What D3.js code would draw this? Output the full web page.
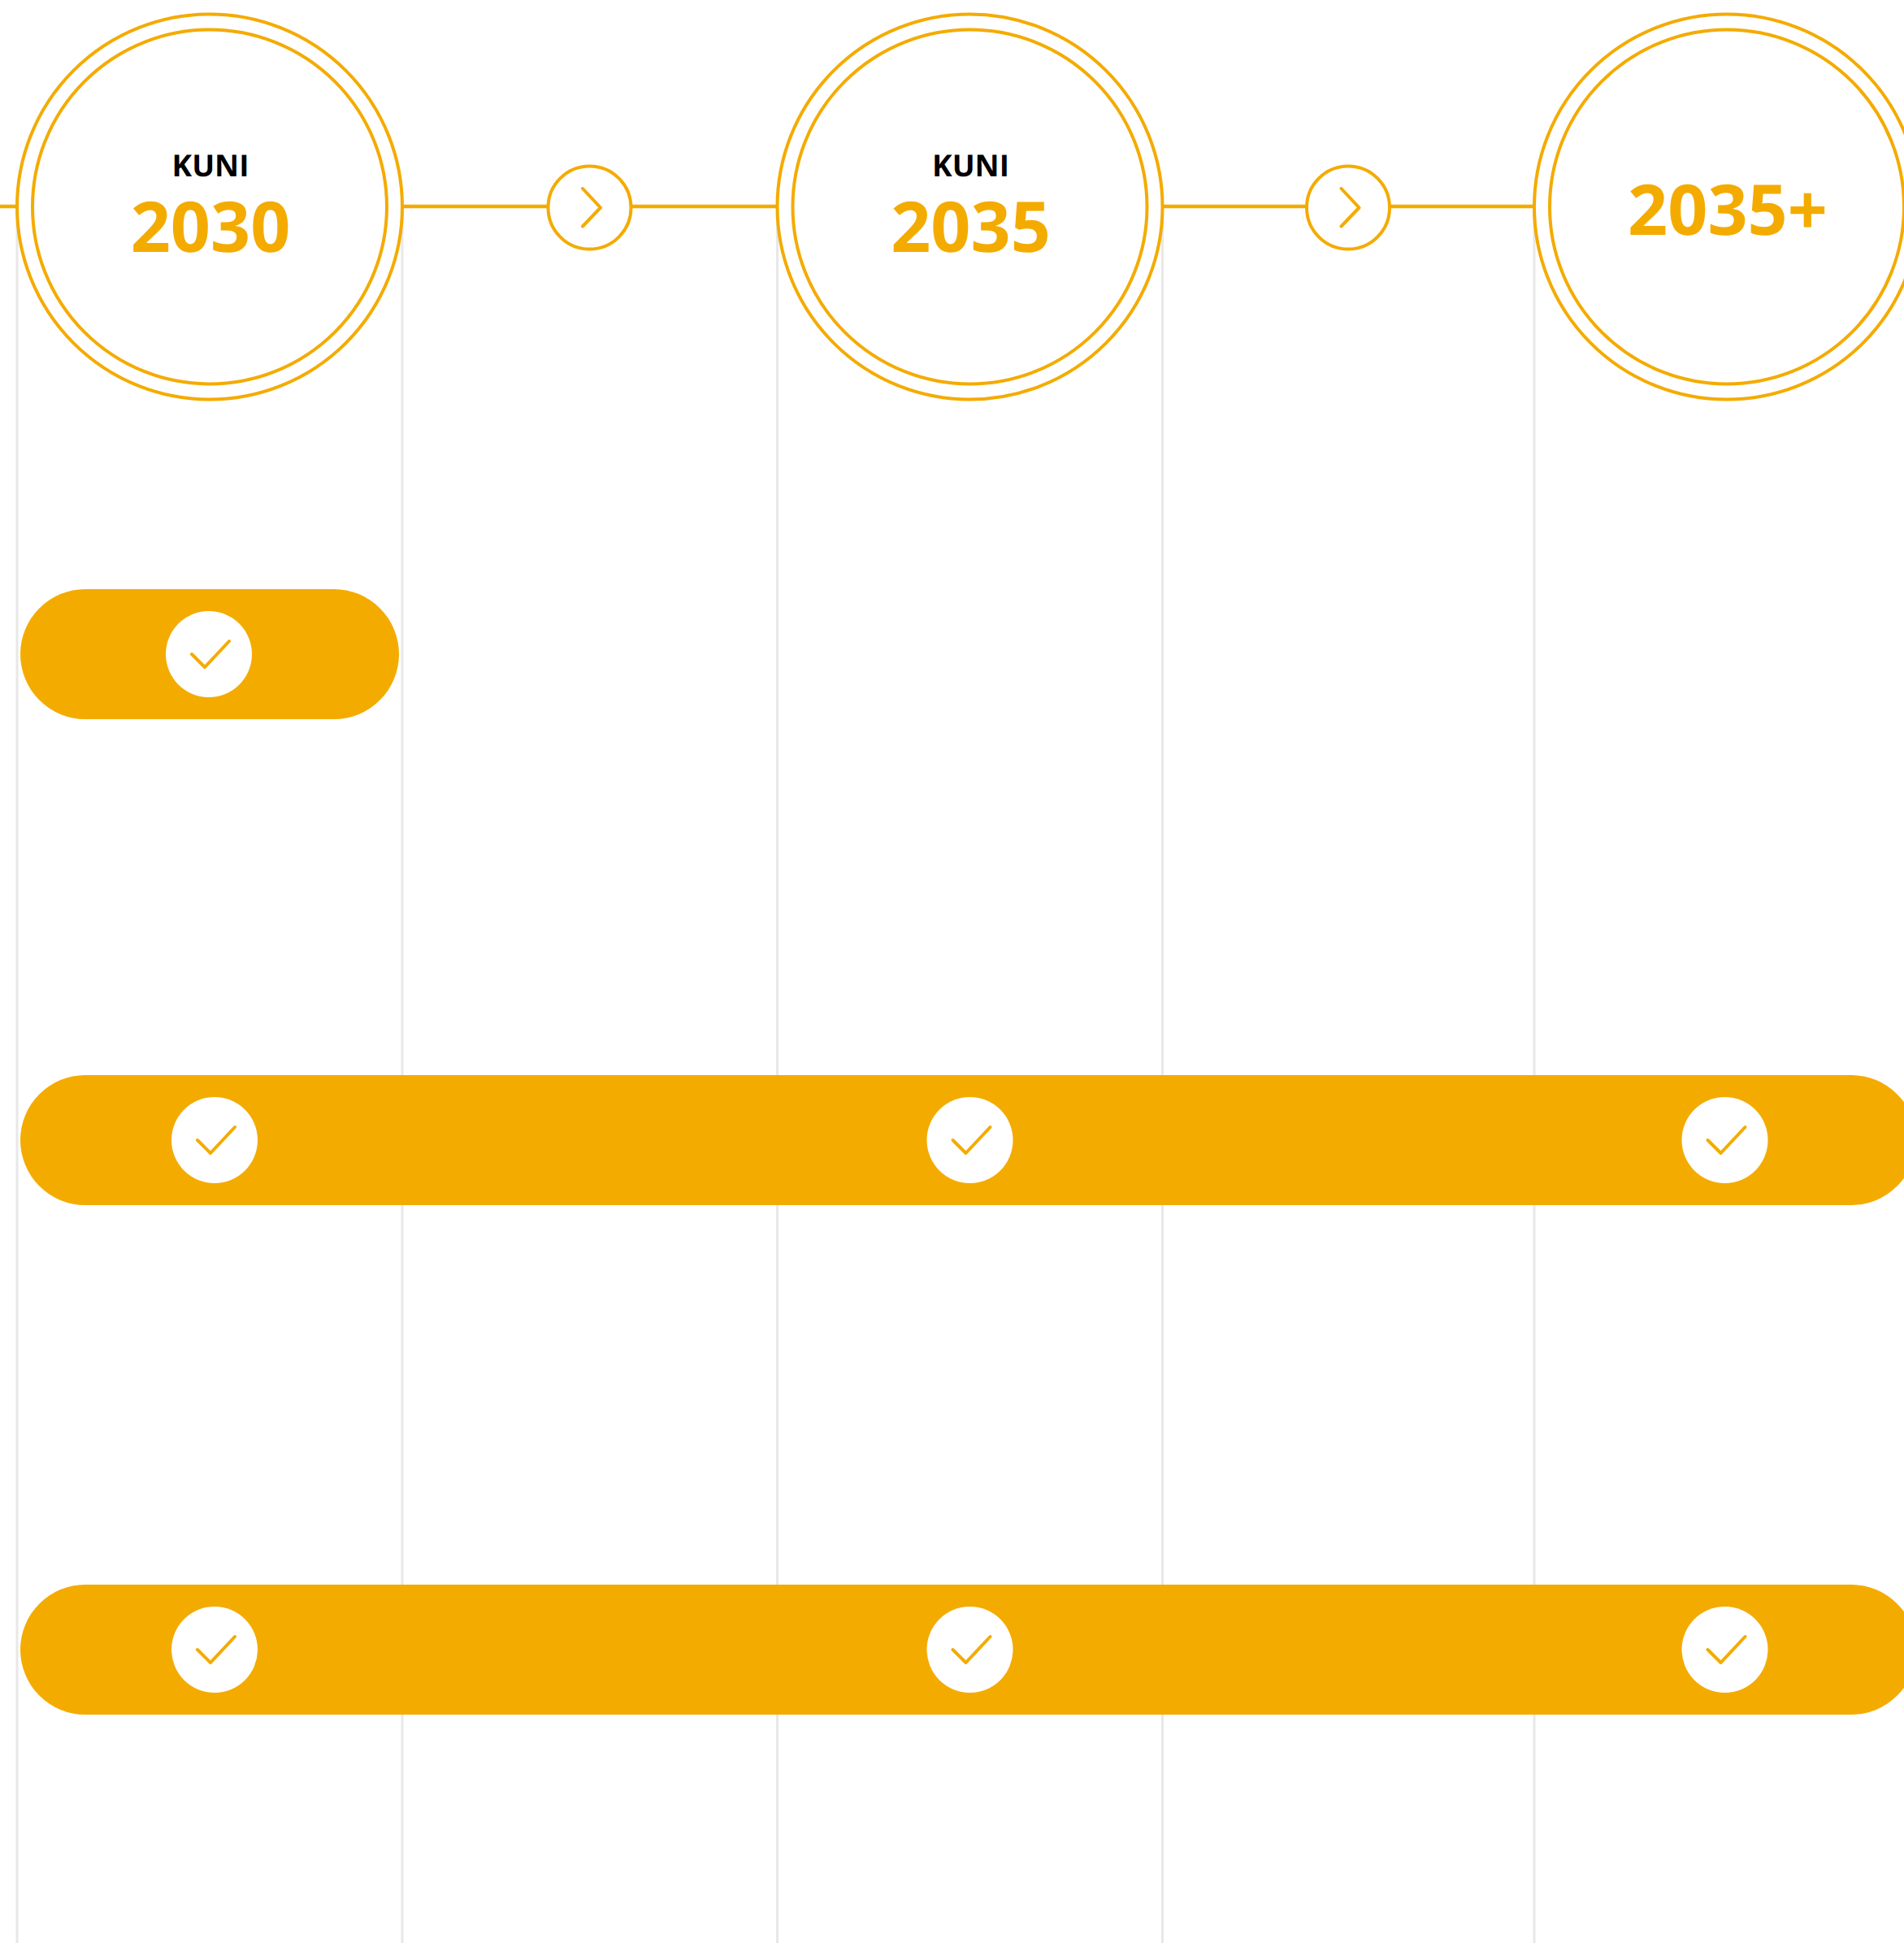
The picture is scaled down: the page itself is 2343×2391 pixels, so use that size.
<!DOCTYPE html>
<html lang="en">

<head>
    <meta charset="UTF-8">
    <title>Kuni 2030, 2035, 2035+</title>
    <style>
    html, body {
        margin: 0;
        padding: 0;
        background: #fff;
    }
    svg {
        display: block;
    }
    text {
        font-family: "Open Sans", sans-serif;
        font-weight: 700;
        text-anchor: middle;
        text-rendering: geometricPrecision;
    }
    </style>
</head>

<body>
    <div class="chart"></div>
    <script src="https://d3js.org/d3.v7.min.js"></script>
    <script type="text/javascript">
    // timeline
    var periods = ['2030', '2035', '2035+'];
    var periodPrefix = ['KUNI', 'KUNI', ''];
    var steps = ['2030-2035', '2035-2035+'];

    // rows: last period of each bar, and where the checks sit
    var rows = ['row1', 'row2', 'row3'];
    var rowEnd = ['2030', '2035+', '2035+'];
    var rowChecks = [
        ['2030'],
        ['2030', '2035', '2035+'],
        ['2030', '2035', '2035+']
    ];

    var width = 2343,
        height = 2391;

    const amber = '#f4ab00';
    const gridGrey = '#e8e8e8';

    const timelineY = 254.5;
    const outerR = 237;
    const innerR = 218;
    const stepR = 51;
    const barR = 80;
    const checkR = 53;

    var x = d3.scaleOrdinal().domain(periods).range([258, 1193.5, 2125]);
    var xStep = d3.scaleOrdinal().domain(steps).range([725.5, 1659]);
    var xCheck = d3.scaleOrdinal().domain(periods).range([264, 1193.5, 2122.5]);
    var y = d3.scaleOrdinal().domain(rows).range([805, 1403, 2030]);

    var line = d3.line();

    var svg = d3.select('.chart').append('svg')
        .attr('width', width)
        .attr('height', height);

    // vertical guides on both edges of every big circle
    var guides = periods.flatMap(function(p) { return [x(p) - outerR, x(p) + outerR]; });
    svg.append('g').selectAll('line')
        .data(guides)
        .enter().append('line')
        .attr('x1', function(d) { return d; })
        .attr('x2', function(d) { return d; })
        .attr('y1', timelineY)
        .attr('y2', height)
        .style('stroke', gridGrey)
        .style('stroke-width', 3);

    svg.append('line')
        .attr('x1', 0)
        .attr('x2', x('2035+'))
        .attr('y1', timelineY - 0.5)
        .attr('y2', timelineY - 0.5)
        .style('stroke', amber)
        .style('stroke-width', 4.5);

    // big period circles
    var period = svg.append('g').selectAll('g')
        .data(periods)
        .enter().append('g')
        .attr('transform', function(d) { return 'translate(' + x(d) + ',' + timelineY + ')'; });

    period.append('circle')
        .attr('r', outerR)
        .style('fill', '#fff')
        .style('stroke', amber)
        .style('stroke-width', 4);

    period.append('circle')
        .attr('r', innerR)
        .style('fill', 'none')
        .style('stroke', amber)
        .style('stroke-width', 4);

    period.append('text')
        .attr('y', -38)
        .attr('x', 1)
        .style('font-size', '37px')
        .style('fill', '#000')
        .text(function(d, i) { return periodPrefix[i]; });

    period.append('text')
        .attr('y', function(d, i) { return periodPrefix[i] ? 55 : 34; })
        .attr('x', 1)
        .style('font-size', '86px')
        .style('fill', amber)
        .text(function(d) { return d; });

    // small arrow circles
    var step = svg.append('g').selectAll('g')
        .data(steps)
        .enter().append('g')
        .attr('transform', function(d) { return 'translate(' + xStep(d) + ',' + (timelineY + 1) + ')'; });

    step.append('circle')
        .attr('r', stepR)
        .style('fill', '#fff')
        .style('stroke', amber)
        .style('stroke-width', 4);

    step.append('path')
        .attr('d', line([[-8.5, -23.5], [13.5, 0], [-8.5, 23]]))
        .style('fill', 'none')
        .style('stroke', amber)
        .style('stroke-width', 4)
        .style('stroke-linecap', 'round')
        .style('stroke-linejoin', 'round');

    // bars with their check marks
    var row = svg.append('g').selectAll('g')
        .data(rows)
        .enter().append('g');

    row.append('rect')
        .attr('x', 25)
        .attr('y', function(d) { return y(d) - barR; })
        .attr('width', function(d, i) {
            return rowEnd[i] === '2030' ? 466 : 2333;
        })
        .attr('height', barR * 2)
        .attr('rx', barR)
        .style('fill', amber);

    var check = row.selectAll('g')
        .data(function(d, i) {
            return rowChecks[i].map(function(p) {
                // a single check is centred in its period, not on the wide bar's slot
                return { px: rowChecks[i].length === 1 ? x(p) - 1 : xCheck(p), py: y(d) };
            });
        })
        .enter().append('g')
        .attr('transform', function(d) { return 'translate(' + d.px + ',' + d.py + ')'; });

    check.append('circle')
        .attr('r', checkR)
        .style('fill', '#fff');

    check.append('path')
        .attr('d', line([[-21, 0], [-5, 16], [25, -16]]))
        .style('fill', 'none')
        .style('stroke', amber)
        .style('stroke-width', 4)
        .style('stroke-linecap', 'round')
        .style('stroke-linejoin', 'round');
    </script>
</body>

</html>
